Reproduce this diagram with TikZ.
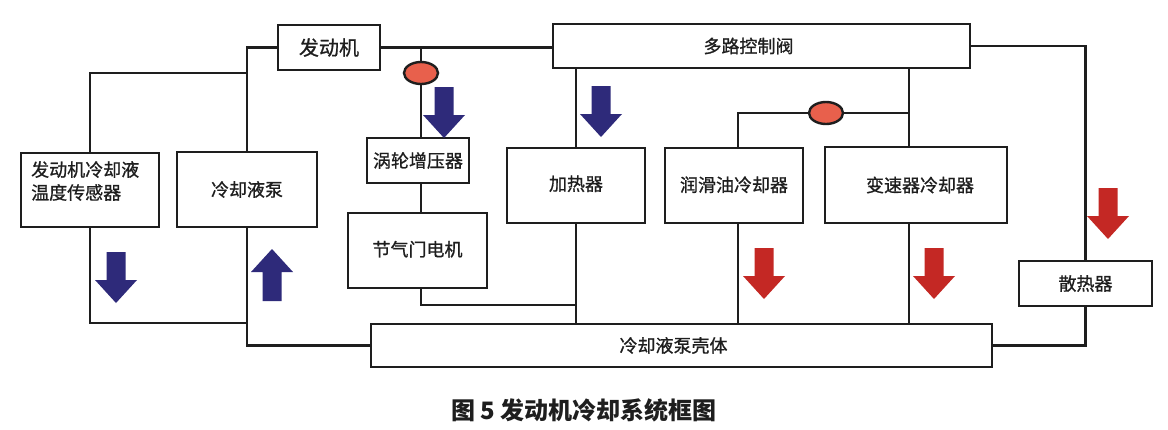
\documentclass[tikz,border=0pt]{standalone}
\usepackage{fontspec}
\usetikzlibrary{shapes.geometric}
\newfontfamily\cjk{Noto Sans CJK SC}
\newfontfamily\cjkm{Noto Sans CJK SC}[FakeBold=0.9]
\definecolor{navyarr}{RGB}{46,42,122}
\definecolor{redarr}{RGB}{196,40,36}
\definecolor{valvefill}{RGB}{232,96,76}
\definecolor{ink}{RGB}{30,30,30}
\begin{document}
\begin{tikzpicture}[x=1pt,y=-1pt,
 box/.style={draw=ink, line width=2.8pt, inner sep=0pt, font=\cjkm\fontsize{18}{23}\selectfont, text=ink},
 wire/.style={draw=ink, line width=2.8pt},
 valveball/.style={ellipse, draw=ink, line width=2.4pt, fill=valvefill, minimum width=34pt, minimum height=22pt, inner sep=0pt},
 downarr/.pic={\path[pic actions] (-9.5,0) -- (9.5,0) -- (9.5,28) -- (21,28) -- (0,51) -- (-21,28) -- (-9.5,28) -- cycle;},
 uparr/.pic={\path[pic actions] (-9.5,0) -- (9.5,0) -- (9.5,-29) -- (21,-29) -- (0,-52) -- (-21,-29) -- (-9.5,-29) -- cycle;}
]
\useasboundingbox[fill=white] (0,0) rectangle (1168,429);

% boxes
\node[box, minimum width=102pt, minimum height=45pt, font=\cjkm\fontsize{20}{23}\selectfont] (eng) at (329,47.5) {发动机};
\node[box, minimum width=417pt, minimum height=44pt] (valve) at (761.5,46) {多路控制阀\hspace*{26pt}};
\node[box, minimum width=138pt, minimum height=74pt] (sensor) at (90,190) {};
\node[font=\cjkm\fontsize{18}{23}\selectfont, text=ink, align=left, anchor=west, inner sep=0pt] (sensortxt) at (31,181) {发动机冷却液\\温度传感器};
\node[box, minimum width=140pt, minimum height=75pt] (pump) at (247,189.5) {冷却液泵};
\node[box, minimum width=102pt, minimum height=45pt] (turbo) at (418,160.5) {涡轮增压器};
\node[box, minimum width=139pt, minimum height=75pt] (throttle) at (417.5,250.5) {\raisebox{4pt}{节气门电机}};
\node[box, minimum width=138pt, minimum height=75pt] (heater) at (576,185.5) {\raisebox{5pt}{加热器}};
\node[box, minimum width=138pt, minimum height=75pt] (oil) at (734,185.5) {\raisebox{3pt}{润滑油冷却器}};
\node[box, minimum width=182pt, minimum height=76pt] (trans) at (916,185) {\hspace*{8pt}变速器冷却器};
\node[box, minimum width=133pt, minimum height=45pt] (rad) at (1085.5,283.5) {散热器};
\node[box, minimum width=621pt, minimum height=43pt] (housing) at (681.5,345.5) {冷却液泵壳体\hspace*{16pt}};

% junction coordinates
\coordinate (j1) at (247,73);
\coordinate (j2) at (421,47.5);
\coordinate (j3) at (576,305);
\coordinate (j4) at (909,113);
\coordinate (j5) at (247,323);
\coordinate (jt) at (909,46);
\coordinate (jo) at (738,113);

% wires
\draw[wire] (eng.west) -| (pump.north);
\draw[wire] (sensor.north) |- (j1);
\draw[wire] (eng.east) -- (eng.east -| valve.west);
\draw[wire] (j2) -- (j2 |- turbo.north);
\draw[wire] (turbo.south -| j2) -- (throttle.north -| j2);
\draw[wire] (throttle.south -| j2) |- (j3);
\draw[wire] (valve.south -| heater.north) -- (heater.north);
\draw[wire] (heater.south) -- (heater.south |- housing.north);
\draw[wire] (valve.south -| jt) -- (trans.north -| jt);
\draw[wire] (j4) -| (oil.north -| jo);
\draw[wire] (oil.south -| jo) -- (housing.north -| jo);
\draw[wire] (trans.south -| jt) -- (housing.north -| jt);
\draw[wire] (valve.east) -| (rad.north);
\draw[wire] (rad.south) |- (housing.east);
\draw[wire] (sensor.south) |- (j5);
\draw[wire] (pump.south) |- (housing.west);

% valves
\node[valveball] (v1) at (421,73) {};
\node[valveball] (v2) at (826,113) {};

% flow arrows
\pic[fill=navyarr] at (116,252) {downarr};
\pic[fill=navyarr] at (272,301) {uparr};
\pic[fill=navyarr] at (444,87) {downarr};
\pic[fill=navyarr] at (601,86) {downarr};
\pic[fill=redarr] at (764,248) {downarr};
\pic[fill=redarr] at (934,248) {downarr};
\pic[fill=redarr] at (1108,188) {downarr};

% caption
\node[font=\cjk\bfseries\fontsize{24}{24}\selectfont, text=ink] (cap) at (584,410) {图 5 发动机冷却系统框图};
\end{tikzpicture}
\end{document}
